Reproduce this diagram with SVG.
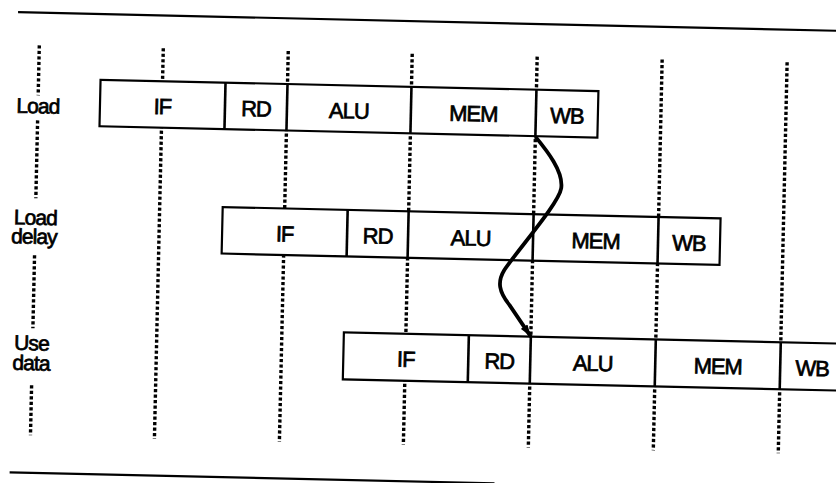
<svg xmlns="http://www.w3.org/2000/svg" width="836" height="483" viewBox="0 0 836 483">
  <defs>
    <style>
      .rule { stroke: #000; stroke-width: 2.2; fill: none; }
      .dots { stroke: #000; stroke-width: 3.4; stroke-dasharray: 3.2 2.3; fill: none; }
      .box { fill: #fff; stroke: #000; stroke-width: 2.2; }
      .div { stroke: #000; stroke-width: 2.6; }
      .stage { font-family: "Liberation Sans", Arial, sans-serif; font-size: 22px; letter-spacing: -1px; text-anchor: middle; fill: #000; stroke: #000; stroke-width: 0.7; }
      .lbl { font-family: "Liberation Sans", Arial, sans-serif; font-size: 21px; letter-spacing: -0.9px; text-anchor: middle; fill: #000; stroke: #000; stroke-width: 0.7; }
      .arrow { stroke: #000; stroke-width: 3.8; fill: none; stroke-linejoin: round; }
    </style>
    <marker id="head" markerUnits="userSpaceOnUse" viewBox="0 0 12 8" refX="12" refY="4" markerWidth="13" markerHeight="8" orient="auto">
      <path d="M0,0 L12,4 L0,8 z" fill="#000"/>
    </marker>
  </defs>
  <rect width="836" height="483" fill="#fff"/>
  <g transform="rotate(1.3 418 240)">
    <g id="rules">
      <line class="rule" x1="13" y1="21.3" x2="860" y2="21.3"/>
      <line class="rule" x1="15" y1="481.5" x2="500" y2="481.5"/>
    </g>
    <g id="grid">
      <line class="dots" x1="35" y1="54" x2="35" y2="104"/>
      <line class="dots" x1="35" y1="129" x2="35" y2="207"/>
      <line class="dots" x1="35" y1="264" x2="35" y2="337"/>
      <line class="dots" x1="35" y1="394" x2="35" y2="444"/>
      <line class="dots" x1="159" y1="54" x2="159" y2="445"/>
      <line class="dots" x1="284" y1="54" x2="284" y2="445"/>
      <line class="dots" x1="408" y1="54" x2="408" y2="445"/>
      <line class="dots" x1="533" y1="54" x2="533" y2="445"/>
      <line class="dots" x1="658" y1="54" x2="658" y2="445"/>
      <line class="dots" x1="783" y1="54" x2="783" y2="445"/>
    </g>
    <g id="load">
      <text class="lbl" x="35" y="122">Load</text>
      <rect class="box" x="97" y="87" width="498" height="46.5"/>
      <line class="div" x1="222" y1="87" x2="222" y2="133.5"/>
      <line class="div" x1="284" y1="87" x2="284" y2="133.5"/>
      <line class="div" x1="408" y1="87" x2="408" y2="133.5"/>
      <line class="div" x1="533" y1="87" x2="533" y2="133.5"/>
      <text class="stage" x="159.5" y="120">IF</text>
      <text class="stage" x="253" y="120">RD</text>
      <text class="stage" x="346" y="120">ALU</text>
      <text class="stage" x="470.5" y="120">MEM</text>
      <text class="stage" x="564" y="120">WB</text>
    </g>
    <g id="load-delay">
      <text class="lbl" x="35" y="233.5">Load</text>
      <text class="lbl" x="34" y="252.5">delay</text>
      <rect class="box" x="222" y="211.5" width="498" height="46.5"/>
      <line class="div" x1="347" y1="211.5" x2="347" y2="258"/>
      <line class="div" x1="408" y1="211.5" x2="408" y2="258"/>
      <line class="div" x1="533" y1="211.5" x2="533" y2="258"/>
      <line class="div" x1="658" y1="211.5" x2="658" y2="258"/>
      <text class="stage" x="284.5" y="244.5">IF</text>
      <text class="stage" x="377.5" y="244.5">RD</text>
      <text class="stage" x="470.5" y="244.5">ALU</text>
      <text class="stage" x="595.5" y="244.5">MEM</text>
      <text class="stage" x="689" y="244.5">WB</text>
    </g>
    <g id="use-data">
      <text class="lbl" x="34" y="359">Use</text>
      <text class="lbl" x="34" y="379">data</text>
      <rect class="box" x="346" y="334" width="520" height="47"/>
      <line class="div" x1="471" y1="334" x2="471" y2="381"/>
      <line class="div" x1="533" y1="334" x2="533" y2="381"/>
      <line class="div" x1="658" y1="334" x2="658" y2="381"/>
      <line class="div" x1="783" y1="334" x2="783" y2="381"/>
      <text class="stage" x="408.5" y="367">IF</text>
      <text class="stage" x="502" y="367">RD</text>
      <text class="stage" x="595.5" y="367">ALU</text>
      <text class="stage" x="720.5" y="367">MEM</text>
      <text class="stage" x="815" y="367">WB</text>
    </g>
    <g id="connectors">
      <path class="arrow" d="M533,134 C545,148 562,168 560,185 C558,200 520,245 505,268 C498,280 500,290 511,303 L533,334" marker-end="url(#head)"/>
    </g>
  </g>
</svg>
